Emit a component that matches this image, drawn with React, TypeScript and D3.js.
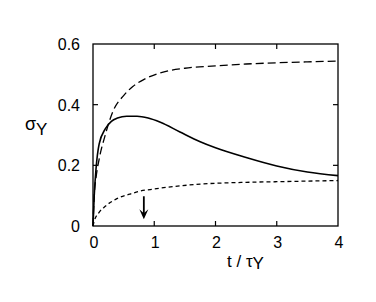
import { useEffect, useRef } from 'react';
import * as d3 from 'd3';

// upper long-dashed curve
const tUpper = [0, 0.02, 0.05, 0.1, 0.2, 0.33, 0.5, 0.65, 0.85, 1.1, 1.5, 2, 2.5, 3, 3.5, 4];
const sUpper = [0, 0.1, 0.16, 0.22, 0.3, 0.38, 0.43, 0.46, 0.485, 0.505, 0.52, 0.528, 0.534, 0.538, 0.541, 0.544];

// solid curve
const tSolid = [0, 0.02, 0.05, 0.1, 0.2, 0.3, 0.4, 0.55, 0.72, 0.9, 1.1, 1.42, 1.75, 2, 2.5, 3, 3.5, 4];
const sSolid = [0, 0.1, 0.19, 0.27, 0.32, 0.345, 0.356, 0.362, 0.362, 0.356, 0.342, 0.31, 0.278, 0.258, 0.226, 0.198, 0.178, 0.166];

// lower short-dashed curve
const tLower = [0, 0.02, 0.1, 0.2, 0.39, 0.6, 0.77, 1, 1.31, 1.75, 2.5, 3, 3.5, 4];
const sLower = [0, 0.016, 0.045, 0.065, 0.09, 0.105, 0.115, 0.122, 0.13, 0.138, 0.144, 0.146, 0.148, 0.15];

const xTicks = [0, 1, 2, 3, 4];
const yTicks = [0, 0.2, 0.4, 0.6];
const arrowT = 0.83;
const arrowFrom = 0.098;
const arrowTo = 0.022;

export default function App() {
  const ref = useRef<SVGSVGElement>(null);

  useEffect(() => {
    if (!ref.current) return;
    const svg = d3.select(ref.current);
    svg.selectAll('*').remove();

    const left = 93, right = 338, top = 44, bottom = 226;
    const x = d3.scaleLinear().domain([0, 4]).range([left, right]);
    const y = d3.scaleLinear().domain([0, 0.6]).range([bottom, top]);
    const font = 'Liberation Sans, Arial, sans-serif';

    // frame
    svg.append('rect')
      .attr('x', left).attr('y', top)
      .attr('width', right - left).attr('height', bottom - top)
      .attr('fill', 'none').attr('stroke', '#000').attr('stroke-width', 1.3);

    // inward ticks
    const tl = 5;
    xTicks.slice(1, -1).forEach(t => {
      svg.append('line').attr('x1', x(t)).attr('x2', x(t)).attr('y1', bottom).attr('y2', bottom - tl)
        .attr('stroke', '#000').attr('stroke-width', 1.2);
      svg.append('line').attr('x1', x(t)).attr('x2', x(t)).attr('y1', top).attr('y2', top + tl)
        .attr('stroke', '#000').attr('stroke-width', 1.2);
    });
    yTicks.slice(1, -1).forEach(v => {
      svg.append('line').attr('x1', left).attr('x2', left + tl).attr('y1', y(v)).attr('y2', y(v))
        .attr('stroke', '#000').attr('stroke-width', 1.2);
      svg.append('line').attr('x1', right).attr('x2', right - tl).attr('y1', y(v)).attr('y2', y(v))
        .attr('stroke', '#000').attr('stroke-width', 1.2);
    });

    // tick labels
    xTicks.forEach(t => {
      svg.append('text').attr('x', x(t) + 1).attr('y', bottom + 22)
        .attr('text-anchor', 'middle').attr('font-family', font).attr('font-size', 16)
        .text(String(t));
    });
    yTicks.forEach(v => {
      svg.append('text').attr('x', left - 13).attr('y', y(v) + 6)
        .attr('text-anchor', 'end').attr('font-family', font).attr('font-size', 16)
        .text(v === 0 ? '0' : v.toFixed(1));
    });

    // curves
    const line = d3.line<[number, number]>()
      .x(d => x(d[0])).y(d => y(d[1]))
      .curve(d3.curveMonotoneX);

    svg.append('path')
      .attr('d', line(tUpper.map((t, i) => [t, sUpper[i]] as [number, number])))
      .attr('fill', 'none').attr('stroke', '#000').attr('stroke-width', 1.3)
      .attr('stroke-dasharray', '8,4');

    svg.append('path')
      .attr('d', line(tSolid.map((t, i) => [t, sSolid[i]] as [number, number])))
      .attr('fill', 'none').attr('stroke', '#000').attr('stroke-width', 1.6);

    svg.append('path')
      .attr('d', line(tLower.map((t, i) => [t, sLower[i]] as [number, number])))
      .attr('fill', 'none').attr('stroke', '#000').attr('stroke-width', 1.3)
      .attr('stroke-dasharray', '4,3');

    // arrow
    const ax = x(arrowT);
    svg.append('line').attr('x1', ax).attr('x2', ax).attr('y1', y(arrowFrom)).attr('y2', y(arrowTo) - 4)
      .attr('stroke', '#000').attr('stroke-width', 1.8);
    svg.append('path')
      .attr('d', `M${ax - 4.5},${y(arrowTo) - 10} L${ax},${y(arrowTo)} L${ax + 4.5},${y(arrowTo) - 10} L${ax},${y(arrowTo) - 6}Z`)
      .attr('fill', '#000');

    // axis titles
    const yl = svg.append('text').attr('x', 25).attr('y', 130)
      .attr('font-family', font).attr('font-size', 18);
    yl.append('tspan').text('σ');
    yl.append('tspan').attr('dy', 5).attr('font-size', 17).text('Y');

    const xl = svg.append('text').attr('x', 227).attr('y', 267)
      .attr('font-family', font).attr('font-size', 17);
    xl.append('tspan').text('t / τ');
    xl.append('tspan').attr('dy', 2).text('Y');
  }, []);

  return (
    <svg ref={ref} width={376} height={302}
      style={{ position: 'absolute', left: 0, top: 0, background: '#fff' }} />
  );
}
